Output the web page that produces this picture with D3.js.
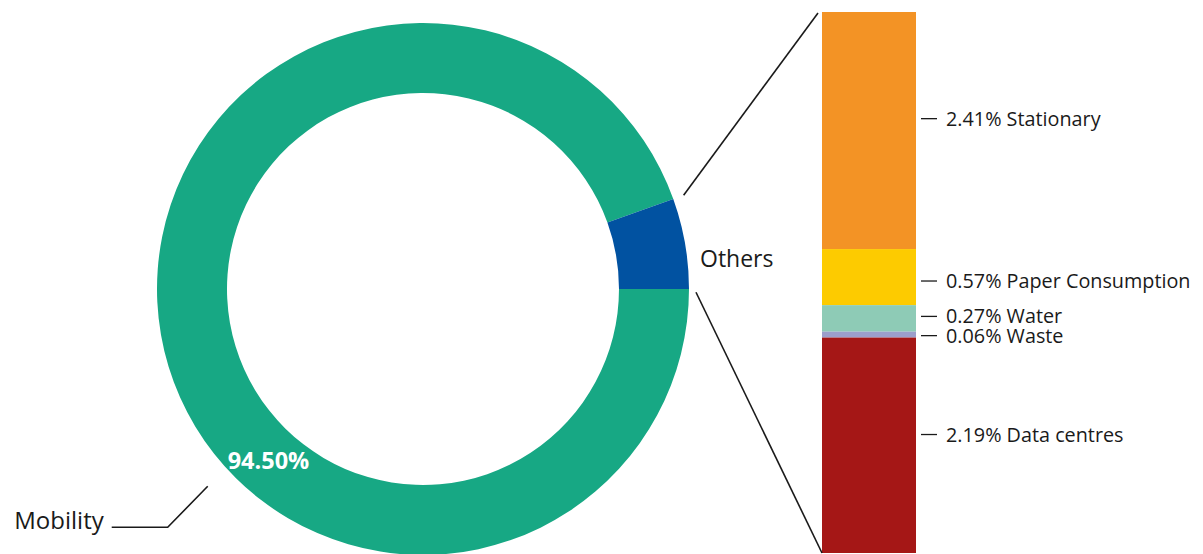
<!DOCTYPE html>
<html>
<head>
<meta charset="utf-8">
<script src="https://cdn.jsdelivr.net/npm/d3@7"></script>
<style>
  body { margin: 0; background: #fff; }
  svg { display: block; font-family: "Open Sans", sans-serif; }
</style>
</head>
<body>
<div id="chart"></div>
<script>
// Ring data
let categories = ["Mobility", "Others"];
let shares = [94.5, 5.5];
let ringColors = ["#17a884", "#0152a1"];

// Breakdown of "Others"
let otherNames = ["Stationary", "Paper Consumption", "Water", "Waste", "Data centres"];
let otherShares = [2.41, 0.57, 0.27, 0.06, 2.19];
let otherColors = ["#f39325", "#fdcb00", "#8ecbb6", "#9c9fcb", "#a51716"];

let width = 1203, height = 554;

let svg = d3.select("#chart")
    .append("svg")
    .attr("width", width)
    .attr("height", height);

/* Donut */
let cx = 423, cy = 289;
let outerR = 266, innerR = 196;

// start so that "Others" ends at 3 o'clock
let pie = d3.pie()
    .sort(null)
    .value(d => d)
    .startAngle(Math.PI / 2)
    .endAngle(Math.PI / 2 + 2 * Math.PI);

let arcs = pie(shares);
let arc = d3.arc().innerRadius(innerR).outerRadius(outerR);

let ring = svg.append("g")
    .attr("transform", `translate(${cx}, ${cy})`);

ring.selectAll("path")
    .data(arcs)
    .enter()
    .append("path")
    .attr("d", arc)
    .attr("fill", (d, i) => ringColors[i]);

function polar(r, a) {
    return [r * Math.sin(a), -r * Math.cos(a)];
}

// percentage inside mobility arc
let pLab = polar((innerR + outerR) / 2, 222 * Math.PI / 180);
ring.append("text")
    .attr("x", pLab[0])
    .attr("y", pLab[1] + 8)
    .attr("text-anchor", "middle")
    .attr("fill", "#fff")
    .attr("font-weight", "bold")
    .attr("font-size", "23.5px")
    .text(shares[0].toFixed(2) + "%");

// Mobility leader line
let m0 = polar(292, 227.5 * Math.PI / 180);
ring.append("path")
    .attr("d", `M${m0[0]},${m0[1]} L${m0[0] - 40},${m0[1] + 41} L${m0[0] - 96},${m0[1] + 41}`)
    .attr("fill", "none")
    .attr("stroke", "#1a1a1a")
    .attr("stroke-width", 1.6);

ring.append("text")
    .attr("x", m0[0] - 104)
    .attr("y", m0[1] + 43)
    .attr("text-anchor", "end")
    .attr("font-size", "24px")
    .attr("fill", "#1a1a1a")
    .text(categories[0]);

// Others label
ring.append("text")
    .attr("x", outerR + 11)
    .attr("y", -22)
    .attr("font-size", "23px")
    .attr("fill", "#1a1a1a")
    .text(categories[1]);

/* Stacked bar for Others */
let barX = 822, barW = 94;
let yScale = d3.scaleLinear()
    .domain([0, d3.sum(otherShares)])
    .range([12, 553]);

let stack = [];
let acc = 0;
otherShares.forEach((v, i) => {
    stack.push({ name: otherNames[i], value: v, y0: acc, y1: acc + v, color: otherColors[i] });
    acc += v;
});

let bar = svg.append("g");

bar.selectAll("rect")
    .data(stack)
    .enter()
    .append("rect")
    .attr("x", barX)
    .attr("y", d => yScale(d.y0))
    .attr("width", barW)
    .attr("height", d => yScale(d.y1) - yScale(d.y0))
    .attr("fill", d => d.color);

// label position: big segments sit a bit above their middle
function labelY(d) {
    let top = yScale(d.y0), h = yScale(d.y1) - yScale(d.y0);
    if (h > 100) return top + h * 0.45;
    if (h > 40) return top + h * 0.57;
    return top + h / 2 + (h < 10 ? 1 : -2);
}

let labels = bar.selectAll(".lab")
    .data(stack)
    .enter()
    .append("g")
    .attr("class", "lab")
    .attr("transform", d => `translate(${barX + barW + 5}, ${labelY(d)})`);

labels.append("line")
    .attr("x1", 0).attr("x2", 16)
    .attr("y1", 0).attr("y2", 0)
    .attr("stroke", "#1a1a1a")
    .attr("stroke-width", 1.3);

labels.append("text")
    .attr("x", 25)
    .attr("y", 7)
    .attr("font-size", "19.8px")
    .attr("fill", "#1a1a1a")
    .text(d => `${d.value.toFixed(2)}% ${d.name}`);

/* Connector lines from ring to bar */
let t0 = polar(outerR + 11, arcs[1].startAngle);
let b0 = polar(outerR + 7, arcs[1].endAngle + 0.012);
svg.append("line")
    .attr("x1", cx + t0[0]).attr("y1", cy + t0[1])
    .attr("x2", barX - 4).attr("y2", yScale.range()[0] + 1)
    .attr("stroke", "#1a1a1a")
    .attr("stroke-width", 1.6);
svg.append("line")
    .attr("x1", cx + b0[0]).attr("y1", cy + b0[1])
    .attr("x2", barX).attr("y2", yScale.range()[1])
    .attr("stroke", "#1a1a1a")
    .attr("stroke-width", 1.6);
</script>
</body>
</html>
